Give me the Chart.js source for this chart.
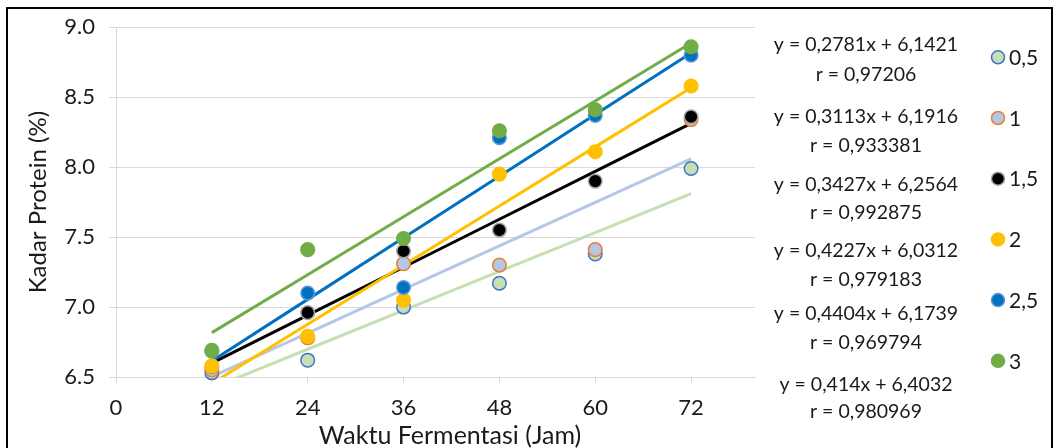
<!DOCTYPE html>
<html>
<head>
<meta charset="utf-8">
<script src="https://cdn.jsdelivr.net/npm/chart.js@4.4.1/dist/chart.umd.min.js"></script>
<style>
  html, body { margin: 0; padding: 0; background: #fff; }
  #wrap { width: 1059px; height: 448px; position: relative; }
</style>
</head>
<body>
<div id="wrap"><canvas id="c" width="1059" height="448"></canvas></div>
<script>
// Fermentation time (hours) and protein content (%) per treatment
const hours = [12, 24, 36, 48, 60, 72];
const seriesNames = ['0,5', '1', '1,5', '2', '2,5', '3'];
const kadar05 = [6.53, 6.62, 7.00, 7.17, 7.38, 7.99];
const kadar1  = [6.55, 6.78, 7.31, 7.30, 7.41, 8.34];
const kadar15 = [6.57, 6.96, 7.40, 7.55, 7.90, 8.36];
const kadar2  = [6.58, 6.79, 7.05, 7.95, 8.11, 8.58];
const kadar25 = [6.685, 7.10, 7.14, 8.21, 8.37, 8.80];
const kadar3  = [6.69, 7.41, 7.49, 8.26, 8.41, 8.86];

// Linear regression per treatment (x = observation number 1..6)
const slopes     = [0.2781, 0.3113, 0.3427, 0.4227, 0.4404, 0.414];
const intercepts = [6.1421, 6.1916, 6.2564, 6.0312, 6.1739, 6.4032];
const rValues    = [0.97206, 0.933381, 0.992875, 0.979183, 0.969794, 0.980969];

const xTicks = [0, 12, 24, 36, 48, 60, 72];
const yTicks = [6.5, 7.0, 7.5, 8.0, 8.5, 9.0];

const allSeries = [kadar05, kadar1, kadar15, kadar2, kadar25, kadar3];

// Marker and trendline styling per treatment
const markerFill   = ['#c5e0b4', '#b4c7e7', '#000000', '#ffc000', '#0070c0', '#70ad47'];
const markerBorder = ['#4472c4', '#ed7d31', '#a5a5a5', '#ffc000', '#5b9bd5', '#70ad47'];
const trendColor   = ['#c5e0b4', '#b4c7e7', '#000000', '#ffc000', '#0070c0', '#70ad47'];

const FONT = 'Lato';
const TEXT = '#1a1a1a';
const GRID = '#d9d9d9';

const decimalComma = v => String(v).replace('.', ',');

const datasets = [];
allSeries.forEach((vals, i) => {
  datasets.push({
    type: 'scatter',
    label: seriesNames[i],
    data: hours.map((h, k) => ({ x: h, y: vals[k] })),
    backgroundColor: markerFill[i],
    borderColor: markerBorder[i],
    borderWidth: 1.5,
    pointRadius: 6.8,
    pointHoverRadius: 6.8,
    showLine: false,
    clip: false,
    order: 5 - i
  });
});
allSeries.forEach((vals, i) => {
  datasets.push({
    type: 'line',
    label: 'Linear (' + seriesNames[i] + ')',
    data: hours.map((h, k) => ({ x: h, y: slopes[i] * (k + 1) + intercepts[i] })),
    borderColor: trendColor[i],
    backgroundColor: trendColor[i],
    borderWidth: 3,
    pointRadius: 0,
    fill: false,
    tension: 0,
    clip: 0,
    order: 20 - i
  });
});

// Frame, x-axis title, regression labels and the legend at the right
const sideText = {
  id: 'sideText',
  afterDraw(chart) {
    const ctx = chart.ctx;
    ctx.save();
    ctx.strokeStyle = '#000';
    ctx.lineWidth = 2;
    ctx.strokeRect(7, 8, 1045, 442);

    ctx.fillStyle = TEXT;
    ctx.font = '25px ' + FONT;
    ctx.textAlign = 'center';
    ctx.textBaseline = 'middle';
    ctx.fillText('Waktu Fermentasi (Jam)', 450, 436);

    const eqX = 866;
    const eqY = [45, 117, 185, 251, 314, 385];
    const rY  = [75, 146, 213, 280, 343, 412];
    ctx.font = '19.5px ' + FONT;
    slopes.forEach((a, i) => {
      ctx.fillText('y = ' + decimalComma(a) + 'x + ' + decimalComma(intercepts[i]), eqX, eqY[i]);
      ctx.fillText('r = ' + decimalComma(rValues[i]), eqX, rY[i]);
    });

    const legX = 998, legY0 = 57.3, legStep = 60.7;
    ctx.font = '21px ' + FONT;
    ctx.textAlign = 'left';
    seriesNames.forEach((name, i) => {
      const y = legY0 + i * legStep;
      ctx.beginPath();
      ctx.arc(legX, y, 6.5, 0, Math.PI * 2);
      ctx.fillStyle = markerFill[i];
      ctx.fill();
      ctx.lineWidth = 1.5;
      ctx.strokeStyle = markerBorder[i];
      ctx.stroke();
      ctx.fillStyle = TEXT;
      ctx.fillText(name, 1009, y + 1);
    });
    ctx.restore();
  }
};

new Chart(document.getElementById('c'), {
  data: { datasets },
  options: {
    responsive: false,
    animation: false,
    devicePixelRatio: 1,
    layout: { padding: { left: 22, top: 27, right: 304, bottom: 0 } },
    plugins: { legend: { display: false }, tooltip: { enabled: false } },
    scales: {
      x: {
        type: 'linear',
        min: 0,
        max: 80,
        afterBuildTicks: s => { s.ticks = xTicks.map(v => ({ value: v })); },
        afterFit: s => { s.height = 71; },
        ticks: { color: TEXT, font: { family: FONT, size: 22 }, padding: 12, maxRotation: 0 },
        grid: { drawOnChartArea: false, drawTicks: true, tickLength: 6, color: GRID },
        border: { display: true, color: GRID, width: 1 },
        title: { display: false }
      },
      y: {
        type: 'linear',
        min: 6.5,
        max: 9.0,
        afterBuildTicks: s => { s.ticks = yTicks.map(v => ({ value: v })); },
        afterFit: s => { s.width = 94; },
        ticks: { color: TEXT, font: { family: FONT, size: 22 }, padding: 14,
                 callback: v => Number(v).toFixed(1) },
        grid: { color: GRID, tickLength: 7, lineWidth: 1 },
        border: { display: true, color: GRID, width: 1 },
        title: { display: true, text: 'Kadar Protein (%)', color: TEXT,
                 font: { family: FONT, size: 24 }, padding: { top: 2, bottom: 0 } }
      }
    }
  },
  plugins: [sideText]
});
</script>
</body>
</html>
